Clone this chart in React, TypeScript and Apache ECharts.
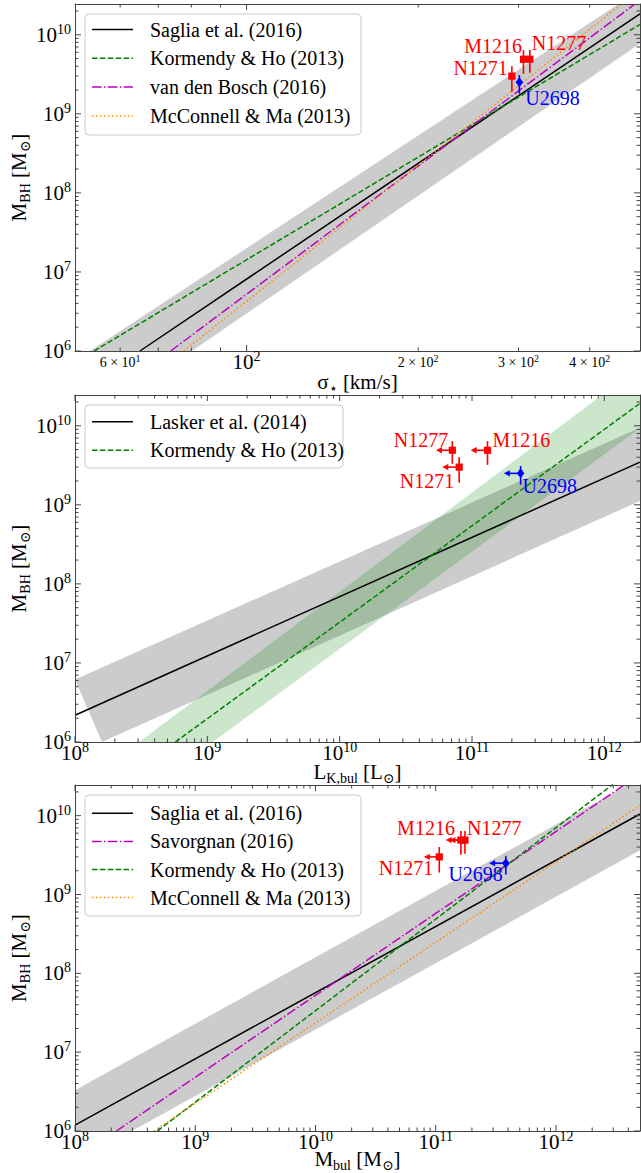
import React, { useEffect, useRef } from 'react';
import * as echarts from 'echarts';

const FONT = '"Liberation Serif", "Times New Roman", "DejaVu Serif", serif';

// ---------------- axis ranges ----------------
const sigmaRange = [50, 490];
const lumRange = [1e8, 1.86e12];
const mbulRange = [1e8, 5e12];
const mbhRange = [1e6, 2.45e10];

// ---------------- tick values / labels ----------------
const sigmaMajorTicks = [100];
const sigmaMinorTicks = [60, 70, 80, 90, 200, 300, 400];
const sigmaMinorLabels: Record<number, [string, string]> = {
  60: ['6', '1'],
  200: ['2', '2'],
  300: ['3', '2'],
  400: ['4', '2'],
};
const lumMajorTicks = [1e8, 1e9, 1e10, 1e11, 1e12];
const mbulMajorTicks = [1e8, 1e9, 1e10, 1e11, 1e12];
const mbhMajorTicks = [1e6, 1e7, 1e8, 1e9, 1e10];

// ---------------- scaling relations (endpoints) ----------------
// panel 1: M_BH - sigma
const sigmaSaglia = [[65, 1e6], [490, 1.84e10]];
const sigmaKormendyHo = [[54.0, 1e6], [490, 1.35e10]];
const sigmaVanDenBosch = [[73.6, 1e6], [480, 2.45e10]];
const sigmaMcConnellMa = [[77.6, 1e6], [455, 2.45e10]];
const sigmaSagliaBandUpper = [[53.1, 1e6], [490, 3.7e10]];
const sigmaSagliaBandLower = [[80.2, 1e6], [490, 7.76e9]];

// panel 2: M_BH - L_K,bul
const lumLasker = [[1e8, 2.18e6], [1.86e12, 3.47e9]];
const lumKormendyHo = [[5.73e8, 1e6], [1.86e12, 1.92e10]];
const lumLaskerBandUpper = [[1e8, 6.17e6], [1.86e12, 9.46e9]];
const lumLaskerBandLower = [[1.6e8, 1e6], [1.86e12, 1.12e9]];
const lumKormendyHoBandUpper = [[3.05e8, 1e6], [1.86e12, 5.6e10]];
const lumKormendyHoBandLower = [[1.1e9, 1e6], [1.86e12, 9.3e9]];

// panel 3: M_BH - M_bul
const mbulSaglia = [[1e8, 1.19e6], [5e12, 1.05e10]];
const mbulSavorgnan = [[2.21e8, 1e6], [3.77e12, 2.5e10]];
const mbulKormendyHo = [[4.84e8, 1e6], [2.98e12, 2.5e10]];
const mbulMcConnellMa = [[4.54e8, 1e6], [5e12, 1.35e10]];
const mbulSagliaBandUpper = [[1e8, 3.3e6], [5e12, 3.0e10]];
const mbulSagliaBandLower = [[1e8, 4.0e5], [5e12, 3.63e9]];

// ---------------- galaxies ----------------
const galaxyNames = ['N1277', 'M1216', 'N1271', 'U2698'];
const mbhValues = [4.9e9, 4.9e9, 3.0e9, 2.5e9];
const mbhLower = [3.3e9, 3.2e9, 1.9e9, 1.8e9];
const mbhUpper = [6.4e9, 6.4e9, 4.0e9, 3.1e9];
const sigmaValues = [314, 306, 292, 301];
const lumKValues = [7.1e10, 1.31e11, 8.0e10, 2.33e11];
const lumKLimitEnd = [5.35e10, 9.77e10, 5.96e10, 1.74e11];
const mbulValues = [1.75e11, 1.62e11, 1.07e11, 3.83e11];
const mbulLimitEnd = [1.3e11, 1.21e11, 7.96e10, 2.78e11];

// ---------------- styles ----------------
const pointColors = ['#ff0000', '#ff0000', '#ff0000', '#0000ff'];
const pointShapes = ['square', 'square', 'square', 'diamond'];
const labelOffsets = [
  [
    { dx: 2, dy: -16, align: 'left' },
    { dx: -1.5, dy: -13, align: 'right' },
    { dx: -4, dy: -8, align: 'right' },
    { dx: 6, dy: 16, align: 'left' },
  ],
  [
    { dx: -4, dy: -10.5, align: 'right' },
    { dx: 5, dy: -10, align: 'left' },
    { dx: -5, dy: 14, align: 'right' },
    { dx: 2, dy: 13, align: 'left' },
  ],
  [
    { dx: 2, dy: -12, align: 'left' },
    { dx: -6, dy: -12, align: 'right' },
    { dx: -6, dy: 11, align: 'right' },
    { dx: -3, dy: 11, align: 'right' },
  ],
];

const STY: Record<string, any> = {
  black: { color: '#000000', dash: null },
  kh: { color: '#008000', dash: [5.5, 2.4] },
  vdb: { color: '#bf00bf', dash: [9.6, 2.4, 1.5, 2.4] },
  mm: { color: '#ff8c00', dash: [1.5, 2.5] },
};

const GRIDS = [
  { left: 75, top: 4, width: 565, height: 347 },
  { left: 75, top: 395, width: 565, height: 347 },
  { left: 75, top: 785, width: 565, height: 346 },
];

const AXIS_COLOR = '#444444';

function minorTicks(range: number[]) {
  const out: number[] = [];
  const k0 = Math.floor(Math.log10(range[0]));
  const k1 = Math.ceil(Math.log10(range[1]));
  for (let k = k0; k <= k1; k++) {
    for (let m = 2; m <= 9; m++) {
      const v = m * Math.pow(10, k);
      if (v > range[0] * 1.0001 && v < range[1] * 0.9999) out.push(v);
    }
  }
  return out;
}

// rich token layouts: token glyph centre = lineTop + fontSize/2 ('top') or lineBottom - fontSize/2 ('bottom')
const tickRich = {
  b: { fontSize: 21, fontFamily: FONT, lineHeight: 23, verticalAlign: 'bottom', fill: '#000', color: '#000' },
  e: { fontSize: 14, fontFamily: FONT, lineHeight: 14, verticalAlign: 'top', fill: '#000', color: '#000' },
  sb: { fontSize: 14, fontFamily: FONT, lineHeight: 16, verticalAlign: 'bottom', fill: '#000', color: '#000' },
  se: { fontSize: 10, fontFamily: FONT, lineHeight: 10, verticalAlign: 'top', fill: '#000', color: '#000' },
};

const titleRich = {
  m: { fontSize: 21, fontFamily: FONT, lineHeight: 24, verticalAlign: 'top', fill: '#000', color: '#000' },
  s: { fontSize: 14, fontFamily: FONT, lineHeight: 14, verticalAlign: 'bottom', fill: '#000', color: '#000' },
};

function expLabel(v: number) {
  const k = Math.round(Math.log10(v));
  return `{b|10}{e|${k}}`;
}

function tickSeries(p: number, xRange: number[], yRange: number[], xMajor: number[], xMinor: number[], yMajor: number[], yMinor: number[], xMinorLabels: Record<number, [string, string]> | null) {
  const ticks: any[] = [];
  xMajor.forEach((v) => ticks.push({ axis: 'x', v, major: true, label: expLabel(v) }));
  xMinor.forEach((v) => {
    const l = xMinorLabels && xMinorLabels[v];
    ticks.push({ axis: 'x', v, major: false, label: l ? `{sb|${l[0]} × 10}{se|${l[1]}}` : null });
  });
  yMajor.forEach((v) => ticks.push({ axis: 'y', v, major: true, label: expLabel(v) }));
  yMinor.forEach((v) => ticks.push({ axis: 'y', v, major: false, label: null }));
  return {
    type: 'custom',
    xAxisIndex: 2 * p,
    yAxisIndex: 2 * p,
    z: 20,
    silent: true,
    clip: false,
    data: ticks.map((t) => (t.axis === 'x' ? [t.v, yRange[0]] : [xRange[0], t.v])),
    renderItem: (params: any, api: any) => {
      const t = ticks[params.dataIndex];
      const len = t.major ? 6 : 3.5;
      const ls = { stroke: AXIS_COLOR, lineWidth: 1 };
      const ch: any[] = [];
      if (t.axis === 'x') {
        const b = api.coord([t.v, yRange[0]]);
        const tp = api.coord([t.v, yRange[1]]);
        ch.push({ type: 'line', shape: { x1: b[0], y1: b[1], x2: b[0], y2: b[1] - len }, style: ls });
        ch.push({ type: 'line', shape: { x1: tp[0], y1: tp[1], x2: tp[0], y2: tp[1] + len }, style: ls });
        if (t.label) {
          ch.push({
            type: 'text',
            x: b[0],
            y: b[1] + (t.major ? -1.5 : 2.5),
            style: { text: t.label, rich: tickRich, align: 'center', verticalAlign: 'top', textAlign: 'center', textVerticalAlign: 'top', fill: '#000' },
          });
        }
      } else {
        const l = api.coord([xRange[0], t.v]);
        const r = api.coord([xRange[1], t.v]);
        ch.push({ type: 'line', shape: { x1: l[0], y1: l[1], x2: l[0] + len, y2: l[1] }, style: ls });
        ch.push({ type: 'line', shape: { x1: r[0], y1: r[1], x2: r[0] - len, y2: r[1] }, style: ls });
        if (t.label) {
          ch.push({
            type: 'text',
            x: l[0] - 4,
            y: l[1] - 1,
            style: { text: t.label, rich: tickRich, align: 'right', verticalAlign: 'middle', textAlign: 'right', textVerticalAlign: 'middle', fill: '#000' },
          });
        }
      }
      return { type: 'group', children: ch };
    },
  };
}

function bandSeries(p: number, upper: number[][], lower: number[][], fill: string, z: number) {
  const poly = [...upper, ...lower.slice().reverse()];
  return {
    type: 'custom',
    xAxisIndex: 2 * p,
    yAxisIndex: 2 * p,
    z,
    silent: true,
    clip: true,
    data: [upper[0]],
    renderItem: (params: any, api: any) => ({
      type: 'polygon',
      shape: { points: poly.map((pt) => api.coord(pt)) },
      style: { fill },
    }),
  };
}

function lineSeries(p: number, name: string, data: number[][], sty: any) {
  return {
    type: 'line',
    name,
    xAxisIndex: 2 * p,
    yAxisIndex: 2 * p,
    data,
    symbol: 'none',
    showSymbol: false,
    silent: true,
    clip: true,
    z: 5,
    lineStyle: { color: sty.color, width: 1.5, type: sty.dash ? sty.dash : 'solid' },
  };
}

function pointSeries(p: number, xs: number[], arrowEnds: number[] | null) {
  return {
    type: 'custom',
    xAxisIndex: 2 * p,
    yAxisIndex: 2 * p,
    z: 10,
    silent: true,
    clip: false,
    data: xs.map((x, i) => [x, mbhValues[i]]),
    renderItem: (params: any, api: any) => {
      const i = params.dataIndex;
      const c = api.coord([xs[i], mbhValues[i]]);
      const lo = api.coord([xs[i], mbhLower[i]]);
      const hi = api.coord([xs[i], mbhUpper[i]]);
      const col = pointColors[i];
      const ch: any[] = [];
      ch.push({ type: 'line', shape: { x1: c[0], y1: lo[1], x2: c[0], y2: hi[1] }, style: { stroke: col, lineWidth: 1.6 } });
      if (arrowEnds) {
        const a = api.coord([arrowEnds[i], mbhValues[i]]);
        ch.push({ type: 'line', shape: { x1: c[0], y1: c[1], x2: a[0] + 3, y2: c[1] }, style: { stroke: col, lineWidth: 1.6 } });
        ch.push({
          type: 'polygon',
          shape: { points: [[a[0], c[1]], [a[0] + 6, c[1] - 3.2], [a[0] + 6, c[1] + 3.2]] },
          style: { fill: col },
        });
      }
      if (pointShapes[i] === 'square') {
        ch.push({ type: 'rect', shape: { x: c[0] - 3.6, y: c[1] - 3.6, width: 7.2, height: 7.2 }, style: { fill: col } });
      } else {
        ch.push({
          type: 'polygon',
          shape: { points: [[c[0], c[1] - 5], [c[0] + 3.8, c[1]], [c[0], c[1] + 5], [c[0] - 3.8, c[1]]] },
          style: { fill: col },
        });
      }
      const o = labelOffsets[p][i];
      ch.push({
        type: 'text',
        x: c[0] + o.dx,
        y: c[1] + o.dy,
        style: {
          text: galaxyNames[i],
          fill: col,
          fontSize: 20,
          fontFamily: FONT,
          align: o.align,
          verticalAlign: 'middle',
          textAlign: o.align,
          textVerticalAlign: 'middle',
        },
      });
      return { type: 'group', children: ch };
    },
  };
}

function legendGraphic(box: { x: number; y: number; w: number; h: number }, rowStart: number, rowStep: number, items: { name: string; sty: any }[]) {
  const els: any[] = [
    {
      type: 'rect',
      z: 100,
      shape: { x: box.x, y: box.y, width: box.w, height: box.h, r: 4 },
      style: { fill: 'rgba(255,255,255,0.8)', stroke: '#cccccc', lineWidth: 1 },
    },
  ];
  items.forEach((it, k) => {
    const y = rowStart + k * rowStep;
    els.push({
      type: 'line',
      z: 101,
      shape: { x1: box.x + 7, y1: y, x2: box.x + 48, y2: y },
      style: { stroke: it.sty.color, lineWidth: 1.5, lineDash: it.sty.dash || null },
    });
    els.push({
      type: 'text',
      z: 101,
      x: box.x + 65,
      y,
      style: {
        text: it.name,
        fill: '#000',
        fontSize: 20,
        fontFamily: FONT,
        align: 'left',
        verticalAlign: 'middle',
        textAlign: 'left',
        textVerticalAlign: 'middle',
      },
    });
  });
  return els;
}

function titleText(x: number, y: number, text: string, rotate: boolean) {
  return {
    type: 'text',
    z: 100,
    x,
    y,
    rotation: rotate ? Math.PI / 2 : 0,
    style: {
      text,
      rich: titleRich,
      fill: '#000',
      align: 'center',
      verticalAlign: 'middle',
      textAlign: 'center',
      textVerticalAlign: 'middle',
    },
  };
}

function buildOption() {
  const xRanges = [sigmaRange, lumRange, mbulRange];
  const xAxis: any[] = [];
  const yAxis: any[] = [];
  xRanges.forEach((r, p) => {
    ['bottom', 'top'].forEach((pos) => {
      xAxis.push({
        type: 'log',
        logBase: 10,
        gridIndex: p,
        position: pos,
        min: r[0],
        max: r[1],
        z: 15,
        axisLine: { show: true, onZero: false, lineStyle: { color: AXIS_COLOR, width: 1 } },
        axisTick: { show: false },
        axisLabel: { show: false },
        splitLine: { show: false },
      });
    });
    ['left', 'right'].forEach((pos) => {
      yAxis.push({
        type: 'log',
        logBase: 10,
        gridIndex: p,
        position: pos,
        min: mbhRange[0],
        max: mbhRange[1],
        z: 15,
        axisLine: { show: true, onZero: false, lineStyle: { color: AXIS_COLOR, width: 1 } },
        axisTick: { show: false },
        axisLabel: { show: false },
        splitLine: { show: false },
      });
    });
  });

  const GRAY = 'rgba(128,128,128,0.4)';
  const GREEN = 'rgba(0,128,0,0.2)';

  const series: any[] = [
    // panel 1
    bandSeries(0, sigmaSagliaBandUpper, sigmaSagliaBandLower, GRAY, 1),
    lineSeries(0, 'Saglia et al. (2016)', sigmaSaglia, STY.black),
    lineSeries(0, 'Kormendy & Ho (2013)', sigmaKormendyHo, STY.kh),
    lineSeries(0, 'van den Bosch (2016)', sigmaVanDenBosch, STY.vdb),
    lineSeries(0, 'McConnell & Ma (2013)', sigmaMcConnellMa, STY.mm),
    pointSeries(0, sigmaValues, null),
    tickSeries(0, sigmaRange, mbhRange, sigmaMajorTicks, sigmaMinorTicks, mbhMajorTicks, minorTicks(mbhRange), sigmaMinorLabels),
    // panel 2
    bandSeries(1, lumLaskerBandUpper, lumLaskerBandLower, GRAY, 1),
    bandSeries(1, lumKormendyHoBandUpper, lumKormendyHoBandLower, GREEN, 2),
    lineSeries(1, 'Lasker et al. (2014)', lumLasker, STY.black),
    lineSeries(1, 'Kormendy & Ho (2013)', lumKormendyHo, STY.kh),
    pointSeries(1, lumKValues, lumKLimitEnd),
    tickSeries(1, lumRange, mbhRange, lumMajorTicks, minorTicks(lumRange), mbhMajorTicks, minorTicks(mbhRange), null),
    // panel 3
    bandSeries(2, mbulSagliaBandUpper, mbulSagliaBandLower, GRAY, 1),
    lineSeries(2, 'Saglia et al. (2016)', mbulSaglia, STY.black),
    lineSeries(2, 'Savorgnan (2016)', mbulSavorgnan, STY.vdb),
    lineSeries(2, 'Kormendy & Ho (2013)', mbulKormendyHo, STY.kh),
    lineSeries(2, 'McConnell & Ma (2013)', mbulMcConnellMa, STY.mm),
    pointSeries(2, mbulValues, mbulLimitEnd),
    tickSeries(2, mbulRange, mbhRange, mbulMajorTicks, minorTicks(mbulRange), mbhMajorTicks, minorTicks(mbhRange), null),
  ];

  const graphic: any[] = [
    ...legendGraphic({ x: 85, y: 14, w: 276, h: 121 }, 29.5, 28.8, [
      { name: 'Saglia et al. (2016)', sty: STY.black },
      { name: 'Kormendy & Ho (2013)', sty: STY.kh },
      { name: 'van den Bosch (2016)', sty: STY.vdb },
      { name: 'McConnell & Ma (2013)', sty: STY.mm },
    ]),
    ...legendGraphic({ x: 85, y: 405, w: 258, h: 63 }, 421.7, 28.5, [
      { name: 'Lasker et al. (2014)', sty: STY.black },
      { name: 'Kormendy & Ho (2013)', sty: STY.kh },
    ]),
    ...legendGraphic({ x: 85, y: 795, w: 276, h: 121 }, 813.3, 28.1, [
      { name: 'Saglia et al. (2016)', sty: STY.black },
      { name: 'Savorgnan (2016)', sty: STY.vdb },
      { name: 'Kormendy & Ho (2013)', sty: STY.kh },
      { name: 'McConnell & Ma (2013)', sty: STY.mm },
    ]),
    titleText(20, 177.5, '{m|M}{s|BH}{m| [M}{s|⊙}{m|]}', true),
    titleText(20, 568.5, '{m|M}{s|BH}{m| [M}{s|⊙}{m|]}', true),
    titleText(20, 958, '{m|M}{s|BH}{m| [M}{s|⊙}{m|]}', true),
    titleText(357.5, 383.5, '{m|σ}{s|⋆}{m| [km/s]}', false),
    titleText(357.5, 773, '{m|L}{s|K,bul}{m| [L}{s|⊙}{m|]}', false),
    titleText(357.5, 1160, '{m|M}{s|bul}{m| [M}{s|⊙}{m|]}', false),
  ];

  return {
    animation: false,
    backgroundColor: '#ffffff',
    grid: GRIDS.map((g) => ({ ...g, show: false })),
    xAxis,
    yAxis,
    series,
    graphic,
  };
}

export default function App() {
  const ref = useRef<HTMLDivElement>(null);
  useEffect(() => {
    if (!ref.current) return;
    const chart = echarts.init(ref.current, null, { renderer: 'svg' });
    chart.setOption(buildOption() as any);
    return () => chart.dispose();
  }, []);
  return <div ref={ref} style={{ position: 'absolute', left: 0, top: 0, width: 641, height: 1173, background: '#fff' }} />;
}
